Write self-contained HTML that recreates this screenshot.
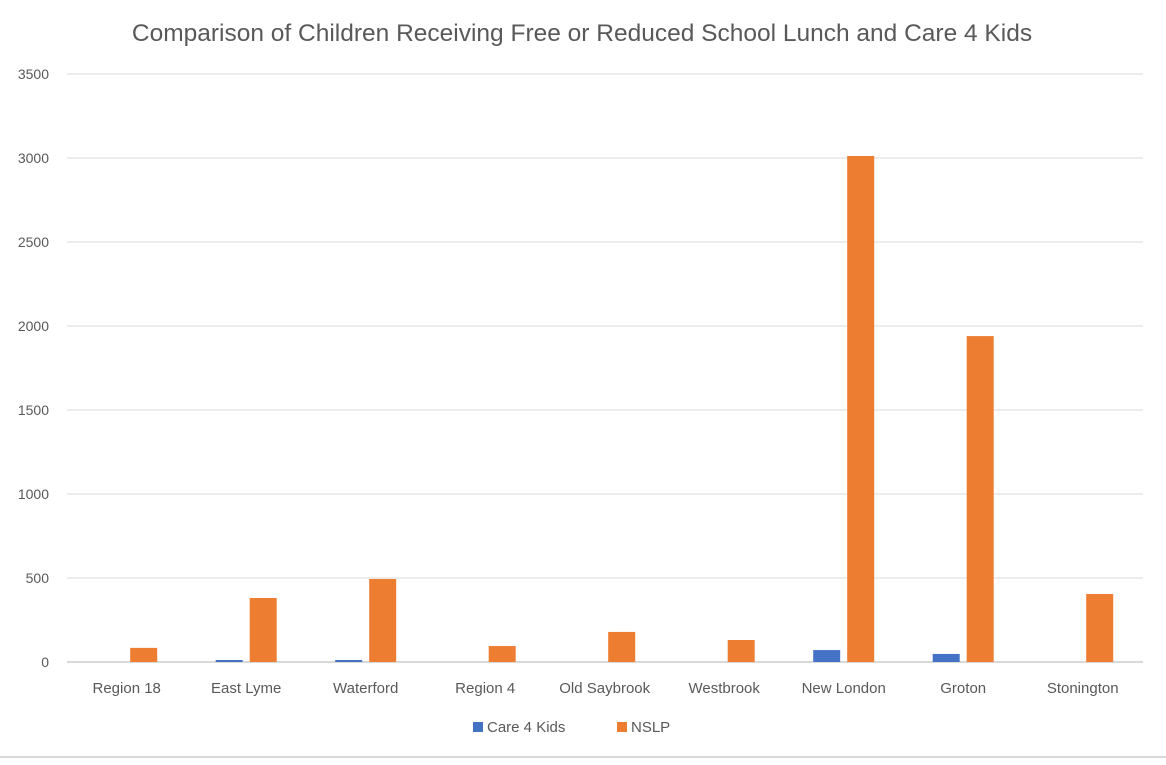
<!DOCTYPE html>
<html><head><meta charset="utf-8"><style>
body{margin:0;background:#fff;width:1166px;height:760px;overflow:hidden;font-family:"Liberation Sans",sans-serif;}
</style></head><body>
<svg id="chart" width="1166" height="760" xmlns="http://www.w3.org/2000/svg" font-family="Liberation Sans, sans-serif">
<rect x="0" y="0" width="1166" height="760" fill="#fff"/>
<line x1="0" y1="757" x2="1166" y2="757" stroke="#d9d9d9" stroke-width="2"/>
<text x="582" y="41" text-anchor="middle" font-size="24.5" fill="#595959">Comparison of Children Receiving Free or Reduced School Lunch and Care 4 Kids</text>
<g id="grid"></g><g id="bars"></g><g id="labels"></g>
<g>
<rect x="473" y="722" width="10" height="10" fill="#4472c4"/>
<text x="487" y="732" font-size="15" fill="#595959">Care 4 Kids</text>
<rect x="617" y="722" width="10" height="10" fill="#ed7d31"/>
<text x="631" y="732" font-size="15" fill="#595959">NSLP</text>
</g>
</svg>
<script>
const categories=["Region 18","East Lyme","Waterford","Region 4","Old Saybrook","Westbrook","New London","Groton","Stonington"];
const care4kids=[0,12,12,0,0,0,71,48,0];
const nslp=[84,381,494,95,179,131,3012,1940,405];
const yTicks=[0,500,1000,1500,2000,2500,3000,3500];
const NS="http://www.w3.org/2000/svg";
const y=v=>662-v*588/3500;
const cx=i=>126.7+i*119.5;
function mk(tag,attrs,parent){const e=document.createElementNS(NS,tag);for(const k in attrs)e.setAttribute(k,attrs[k]);document.getElementById(parent).appendChild(e);return e;}
yTicks.forEach(t=>{
  const l=mk('line',{x1:67,x2:1143,y1:y(t),y2:y(t),stroke:'#d9d9d9','stroke-width':t===0?2:1},'grid');
  
  
  const tx=mk('text',{x:49,y:y(t)+5,'text-anchor':'end','font-size':14,fill:'#595959'},'labels');
  tx.textContent=t;
  
  
});
categories.forEach((c,i)=>{
  const a=mk('rect',{x:cx(i)-30.5,y:y(care4kids[i]),width:27,height:662-y(care4kids[i]),fill:'#4472c4'},'bars');
  
  
  const b=mk('rect',{x:cx(i)+3.5,y:y(nslp[i]),width:27,height:662-y(nslp[i]),fill:'#ed7d31'},'bars');
  
  
  const t=mk('text',{x:cx(i),y:693,'text-anchor':'middle','font-size':15,fill:'#595959'},'labels');
  t.textContent=c;
  
  
});
</script>
</body></html>
